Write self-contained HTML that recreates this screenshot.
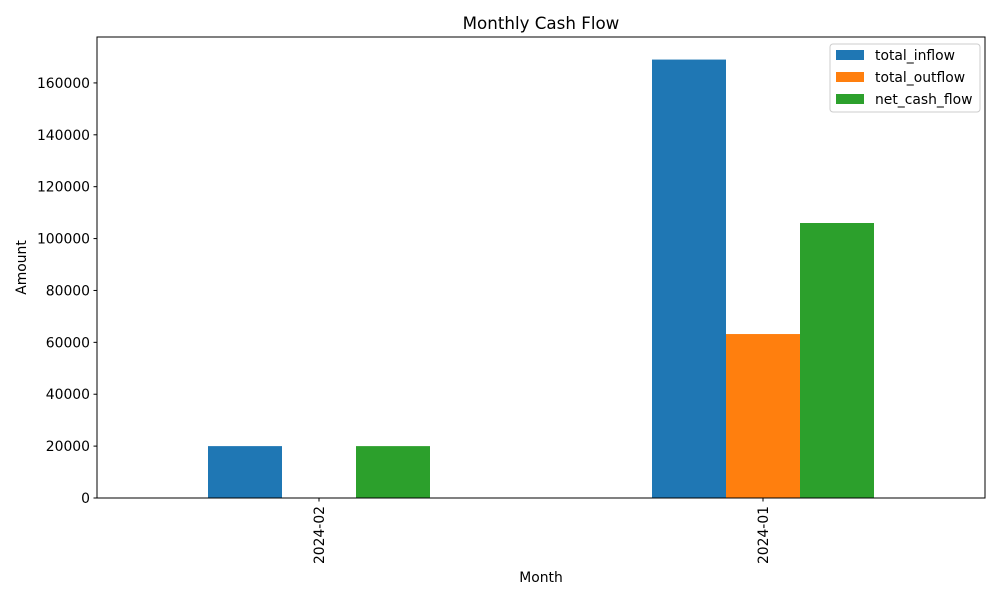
<!DOCTYPE html>
<html><head><meta charset="utf-8"><style>
body{margin:0;background:#fff;}
svg text{font-family:"DejaVu Sans","Liberation Sans",sans-serif;fill:#000;}
</style></head><body>
<svg id="chart" width="1000" height="600" xmlns="http://www.w3.org/2000/svg">
<rect width="1000" height="600" fill="#fff"/>
</svg>
<script>
const categories = ["2024-02","2024-01"];
const seriesNames = ["total_inflow","total_outflow","net_cash_flow"];
const inflow = [20000,169000];
const outflow = [0,63200];
const netFlow = [20000,106000];
const yTicks = [0,20000,40000,60000,80000,100000,120000,140000,160000];
const colors = ["#1f77b4","#ff7f0e","#2ca02c"];
const series = [inflow,outflow,netFlow];

const NS="http://www.w3.org/2000/svg";
const svg=document.getElementById('chart');
const L=97,R=985,T=37,B=498;
const yScale=v=>B-(v/177700)*(B-T);
const unit=(R-L)/2;
const xScale=i=>L+unit*(i+0.5);
function el(tag,attrs,parent){const e=document.createElementNS(NS,tag);for(const k in attrs)e.setAttribute(k,attrs[k]);(parent||svg).appendChild(e);return e;}

const bw=unit/6;
series.forEach((s,si)=>{
  s.forEach((v,ci)=>{
    const x=xScale(ci)+(si-1.5)*bw;
    const r=el('rect',{x:x,y:yScale(v),width:bw,height:B-yScale(v),fill:colors[si]});
    
    
  });
});

const frame=el('rect',{x:L,y:T,width:R-L,height:B-T,fill:'none',stroke:'#000','stroke-width':1});



yTicks.forEach(t=>{
  const y=yScale(t);
  el('line',{x1:L-3.5,x2:L,y1:y,y2:y,stroke:'#000'});
  const tx=el('text',{x:L-7,y:y+5,'text-anchor':'end','font-size':13.9});
  tx.textContent=t;
  
  
});
categories.forEach((c,i)=>{
  const x=xScale(i);
  el('line',{x1:x,x2:x,y1:B,y2:B+3.5,stroke:'#000'});
  const tx=el('text',{x:0,y:0,'text-anchor':'end','font-size':13.9,transform:`translate(${x+5},${B+8}) rotate(-90)`});
  tx.textContent=c;
  
  
});

const title=el('text',{x:(L+R)/2,y:29,'text-anchor':'middle','font-size':16.7});
title.textContent='Monthly Cash Flow';


const xt=el('text',{x:(L+R)/2,y:582,'text-anchor':'middle','font-size':13.9});
xt.textContent='Month';


const yt=el('text',{x:0,y:0,'text-anchor':'middle','font-size':13.9,transform:`translate(26,${(T+B)/2}) rotate(-90)`});
yt.textContent='Amount';



const lg=el('g',{});


el('rect',{x:830,y:44,width:150,height:68,fill:'#fff',stroke:'#ccc',rx:3},lg);
seriesNames.forEach((n,i)=>{
  const y=50+i*22;
  el('rect',{x:836,y:y,width:28,height:10,fill:colors[i]},lg);
  const tx=el('text',{x:875,y:y+10,'font-size':13.9},lg);
  tx.textContent=n;
  
  
});
</script>
</body></html>
